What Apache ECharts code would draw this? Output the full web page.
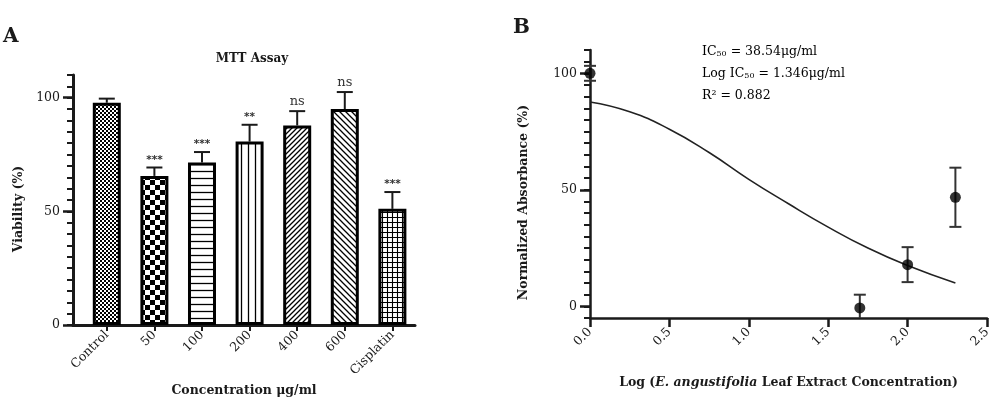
<!DOCTYPE html>
<html><head><meta charset="utf-8">
<script src="https://cdn.jsdelivr.net/npm/echarts@6/dist/echarts.min.js"></script>
<style>html,body{margin:0;padding:0;background:#fff}#c{width:1000px;height:398px}</style>
</head><body><div id="c"></div>
<script>
// ---- Panel A data ----
const categories = ['Control', '50', '100', '200', '400', '600', 'Cisplatin'];
const viability = [97.8, 65.6, 71.5, 80.7, 87.8, 95.0, 51.1];
const viabilitySD = [1.8, 3.7, 4.6, 7.4, 6.3, 7.5, 7.4];
const significance = ['', '***', '***', '**', 'ns', 'ns', '***'];
const yTicksA = [0, 50, 100];

// ---- Panel B data ----
const logConc = [0, 1.699, 2.0, 2.301];
const absorbance = [100, -0.7, 17.9, 46.8];
const absorbanceSD = [3.2, 5.7, 7.5, 12.7];
const fitX = [0, 0.25, 0.5, 0.75, 1.0, 1.25, 1.5, 1.75, 2.0, 2.301];
const fitY = [87.7, 83.5, 76, 66, 54.5, 44, 34, 25, 17.5, 10];
const yTicksB = [0, 50, 100];

const SERIF = '"DejaVu Serif", "Liberation Serif", serif';
const INK = '#1a1a1a';

function makePattern(kind) {
  const c = document.createElement('canvas');
  const ctx = c.getContext('2d');
  let s = 8;
  if (kind === 'fineChecker') s = 4;
  if (kind === 'checker') s = 10;
  if (kind === 'hlines') s = 7;
  if (kind === 'vlines') s = 7;
  if (kind === 'diagR') s = 5;
  if (kind === 'diagL') s = 6;
  if (kind === 'grid') s = 5;
  c.width = s; c.height = s;
  ctx.fillStyle = '#fff'; ctx.fillRect(0, 0, s, s);
  ctx.fillStyle = '#000'; ctx.strokeStyle = '#000';
  const h = s / 2;
  if (kind === 'fineChecker' || kind === 'checker') {
    ctx.fillRect(0, 0, h, h); ctx.fillRect(h, h, h, h);
  } else if (kind === 'hlines') {
    ctx.lineWidth = 1.3; ctx.beginPath(); ctx.moveTo(0, h); ctx.lineTo(s, h); ctx.stroke();
  } else if (kind === 'vlines') {
    ctx.lineWidth = 1.3; ctx.beginPath(); ctx.moveTo(h, 0); ctx.lineTo(h, s); ctx.stroke();
  } else if (kind === 'diagR') {
    ctx.lineWidth = 1.3; ctx.beginPath();
    ctx.moveTo(0, s); ctx.lineTo(s, 0);
    ctx.moveTo(-1, 1); ctx.lineTo(1, -1);
    ctx.moveTo(s - 1, s + 1); ctx.lineTo(s + 1, s - 1);
    ctx.stroke();
  } else if (kind === 'diagL') {
    ctx.lineWidth = 1.3; ctx.beginPath();
    ctx.moveTo(0, 0); ctx.lineTo(s, s);
    ctx.moveTo(-1, s - 1); ctx.lineTo(1, s + 1);
    ctx.moveTo(s - 1, -1); ctx.lineTo(s + 1, 1);
    ctx.stroke();
  } else if (kind === 'grid') {
    ctx.lineWidth = 1.1; ctx.beginPath();
    ctx.moveTo(h, 0); ctx.lineTo(h, s); ctx.moveTo(0, h); ctx.lineTo(s, h); ctx.stroke();
  }
  return { image: c, repeat: 'repeat' };
}
const patternKinds = ['fineChecker', 'checker', 'hlines', 'vlines', 'diagR', 'diagL', 'grid'];
const patterns = patternKinds.map(makePattern);

const chart = echarts.init(document.getElementById('c'), null, { renderer: 'canvas' });

function errA(params, api) {
  const i = api.value(0), v = api.value(1), sd = api.value(2);
  const p0 = api.coord([i, v]);
  const p1 = api.coord([i, v + sd]);
  const st = { stroke: INK, lineWidth: 2 };
  const children = [
    { type: 'line', shape: { x1: p0[0], y1: p0[1], x2: p1[0], y2: p1[1] }, style: st },
    { type: 'line', shape: { x1: p1[0] - 8, y1: p1[1], x2: p1[0] + 8, y2: p1[1] }, style: st }
  ];
  const s = significance[params.dataIndex];
  if (s) {
    const isStar = s.indexOf('*') >= 0;
    children.push({
      type: 'text',
      style: {
        text: s, x: p1[0], y: p1[1] - (isStar ? 2 : 3), align: 'center', verticalAlign: 'bottom',
        font: isStar ? 'bold 10.5px "DejaVu Sans", sans-serif' : '13px ' + SERIF, fill: '#333'
      }
    });
  }
  return { type: 'group', children };
}

function errB(params, api) {
  const x = api.value(0), v = api.value(1), sd = api.value(2);
  const cs = params.coordSys;
  const pt = api.coord([x, v + sd]);
  const pb = api.coord([x, v - sd]);
  const yb = Math.min(pb[1], cs.y + cs.height);
  const st = { stroke: '#333', lineWidth: 2 };
  const children = [
    { type: 'line', shape: { x1: pt[0], y1: pt[1], x2: pt[0], y2: yb }, style: st },
    { type: 'line', shape: { x1: pt[0] - 6, y1: pt[1], x2: pt[0] + 6, y2: pt[1] }, style: st }
  ];
  if (pb[1] <= cs.y + cs.height) {
    children.push({ type: 'line', shape: { x1: pb[0] - 6, y1: pb[1], x2: pb[0] + 6, y2: pb[1] }, style: st });
  }
  return { type: 'group', children };
}

const axisLabelA = { fontFamily: SERIF, fontSize: 12.5, color: INK };

const option = {
  animation: false,
  backgroundColor: '#fff',
  title: [{
    text: 'MTT Assay', left: 247, top: 48, textAlign: 'center',
    textStyle: { fontFamily: SERIF, fontSize: 12, fontWeight: 'bold', color: INK }
  }],
  graphic: [
    { type: 'text', left: 3, top: 27, style: { text: 'A', font: 'bold 20px ' + SERIF, fill: INK } },
    { type: 'text', left: 513, top: 18, style: { text: 'B', font: 'bold 20px ' + SERIF, fill: INK } },
    {
      type: 'text', left: 702, top: 45,
      style: {
        text: '{a|IC}{s|50}{a| = 38.54μg/ml}\n{a|Log IC}{s|50}{a| = 1.346μg/ml}\n{a|R² = 0.882}',
        rich: {
          a: { fontFamily: SERIF, fontSize: 12.5, color: INK, lineHeight: 22, verticalAlign: 'bottom' },
          s: { fontFamily: SERIF, fontSize: 8, color: INK, lineHeight: 22, verticalAlign: 'bottom' }
        }
      }
    }
  ],
  grid: [
    { left: 73, top: 75, width: 342, height: 250, containLabel: false, outerBoundsMode: 'none' },
    { left: 590, top: 50, width: 397, height: 268, containLabel: false, outerBoundsMode: 'none' }
  ],
  xAxis: [
    {
      type: 'value', gridIndex: 0, min: -0.71, max: 6.475, position: 'bottom',
      axisLine: { show: true, onZero: false, lineStyle: { color: INK, width: 3 } },
      axisTick: { show: true, inside: false, customValues: [0, 1, 2, 3, 4, 5, 6], length: 6, lineStyle: { color: INK, width: 2 } },
      axisLabel: {
        customValues: [0, 1, 2, 3, 4, 5, 6], rotate: 45, margin: 8,
        formatter: v => categories[Math.round(v)], ...axisLabelA
      },
      splitLine: { show: false },
      name: 'Concentration μg/ml', nameLocation: 'middle', nameGap: 50,
      nameTextStyle: { fontFamily: SERIF, fontSize: 12.5, fontWeight: 'bold', color: INK }
    },
    {
      type: 'value', gridIndex: 1, min: 0, max: 2.5, interval: 0.5, position: 'bottom',
      axisLine: { show: true, onZero: false, lineStyle: { color: INK, width: 2.5 } },
      axisTick: { show: true, inside: false, length: 9, lineStyle: { color: INK, width: 2.5 } },
      axisLabel: { rotate: 45, margin: 12, formatter: v => v.toFixed(1), ...axisLabelA },
      splitLine: { show: false },
      name: '{b|Log (}{i|E. angustifolia}{b| Leaf Extract Concentration)}',
      nameLocation: 'middle', nameGap: 58,
      nameTextStyle: {
        rich: {
          b: { fontFamily: SERIF, fontSize: 12.5, fontWeight: 'bold', color: INK },
          i: { fontFamily: SERIF, fontSize: 12.5, fontWeight: 'bold', fontStyle: 'italic', color: INK }
        }
      }
    }
  ],
  yAxis: [
    {
      type: 'value', gridIndex: 0, min: 0, max: 110, interval: 5, position: 'left',
      axisLine: { show: true, onZero: false, lineStyle: { color: INK, width: 3 } },
      axisTick: { show: true, length: 6, lineStyle: { color: INK, width: 2 } },
      axisLabel: { show: false }, splitLine: { show: false }
    },
    {
      type: 'value', gridIndex: 0, min: 0, max: 110, position: 'left',
      axisLine: { show: false, onZero: false },
      axisTick: { show: true, customValues: yTicksA, length: 10, lineStyle: { color: INK, width: 2.5 } },
      axisLabel: { customValues: yTicksA, margin: 13, ...axisLabelA },
      splitLine: { show: false },
      name: 'Viability (%)', nameLocation: 'middle', nameGap: 48,
      nameTextStyle: { fontFamily: SERIF, fontSize: 12.5, fontWeight: 'bold', color: INK, padding: [0, 18, 0, 0] }
    },
    {
      type: 'value', gridIndex: 1, min: -5, max: 110, interval: 5, position: 'left',
      axisLine: { show: true, onZero: false, lineStyle: { color: INK, width: 2.5 } },
      axisTick: { show: true, length: 6, lineStyle: { color: INK, width: 2 } },
      axisLabel: { show: false }, splitLine: { show: false }
    },
    {
      type: 'value', gridIndex: 1, min: -5, max: 110, position: 'left',
      axisLine: { show: false, onZero: false },
      axisTick: { show: true, customValues: yTicksB, length: 10, lineStyle: { color: INK, width: 2.5 } },
      axisLabel: { customValues: yTicksB, margin: 13, ...axisLabelA },
      splitLine: { show: false },
      name: 'Normalized Absorbance (%)', nameLocation: 'middle', nameGap: 60,
      nameTextStyle: { fontFamily: SERIF, fontSize: 12.5, fontWeight: 'bold', color: INK, padding: [0, 37, 0, 0] }
    }
  ],
  series: [
    {
      type: 'custom', xAxisIndex: 0, yAxisIndex: 0, z: 1,
      renderItem: errA,
      data: viability.map((v, i) => [i, v, viabilitySD[i]])
    },
    {
      type: 'bar', xAxisIndex: 0, yAxisIndex: 0, barWidth: 28, z: 3,
      data: viability.map((v, i) => ({
        value: [i, v],
        itemStyle: { color: patterns[i], borderColor: '#000', borderWidth: 3 }
      }))
    },
    {
      type: 'line', xAxisIndex: 1, yAxisIndex: 2, smooth: true, symbol: 'none',
      lineStyle: { color: '#222', width: 1.6 },
      data: fitX.map((x, i) => [x, fitY[i]])
    },
    {
      type: 'custom', xAxisIndex: 1, yAxisIndex: 2, renderItem: errB,
      data: logConc.map((x, i) => [x, absorbance[i], absorbanceSD[i]])
    },
    {
      type: 'scatter', xAxisIndex: 1, yAxisIndex: 2, symbolSize: 11, z: 5,
      itemStyle: { color: '#000' },
      data: logConc.map((x, i) => [x, absorbance[i]])
    }
  ]
};
chart.setOption(option);
</script>
</body></html>
